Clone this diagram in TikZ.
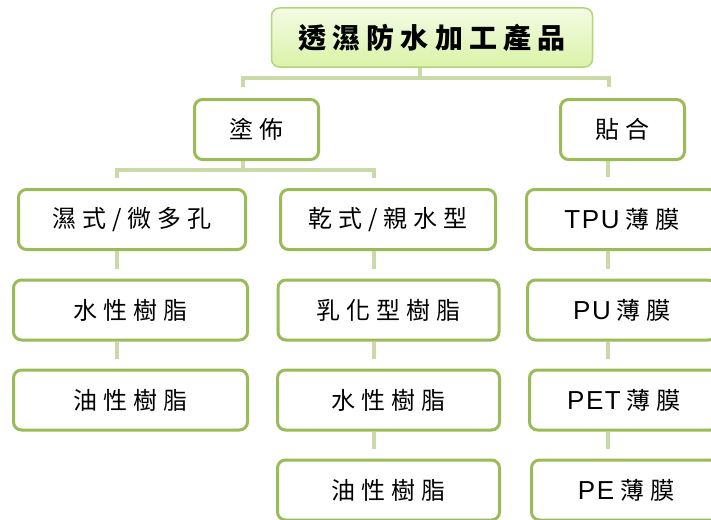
\documentclass[tikz,border=0pt]{standalone}
\usepackage{fontspec}
\newfontfamily\cjk[LetterSpace=25]{Noto Sans CJK TC}
\newfontfamily\cjkhead[LetterSpace=22]{Noto Sans CJK TC}
\newfontfamily\lat[LetterSpace=6]{Liberation Sans}
\usepackage{tikz}
\usetikzlibrary{calc}

\definecolor{boxgreen}{HTML}{9BBB59}
\definecolor{rootline}{HTML}{B5D57A}
\definecolor{linkgreen}{HTML}{C9DAA8}
\definecolor{roottop}{HTML}{F4FBE4}
\definecolor{rootbot}{HTML}{DAF3A8}

\newcommand{\latin}[1]{{\lat\fontsize{26}{30}\selectfont #1}\kern6pt}

\tikzset{
  box/.style={draw=boxgreen,line width=3pt,rounded corners=8pt,fill=white,
    minimum height=60pt,inner sep=0pt,font=\cjk\fontsize{24}{28}\selectfont},
  rootbox/.style={draw=rootline,line width=1.5pt,rounded corners=8pt,
    top color=roottop,bottom color=rootbot,minimum width=321pt,minimum height=59pt,
    inner sep=0pt,font=\cjkhead\bfseries\fontsize{28}{32}\selectfont},
  link/.style={draw=linkgreen,line width=3.5pt}
}

\begin{document}
\begin{tikzpicture}[x=1pt,y=-1pt]
  \path[use as bounding box,clip] (0,0) rectangle (711,519);
  % top level
  \node[rootbox] (root) at (432,37.5) {透濕防水加工產品};
  % second level
  \node[box,minimum width=124pt] (coat) at (256.5,129.5) {塗佈};
  \node[box,minimum width=124pt] (bond) at (622.5,129.5) {貼合};
  % third level
  \node[box,minimum width=227pt] (wet) at (132,219.5) {濕式/微多孔};
  \node[box,minimum width=215pt] (dry) at (388,219.5) {乾式/親水型};
  \node[box,minimum width=191pt] (tpu) at (622,219.5) {\latin{TPU}薄膜};
  % columns
  \node[box,minimum width=234pt] (wetwater) at (130.5,310) {水性樹脂};
  \node[box,minimum width=234pt] (wetoil) at (130.5,400) {油性樹脂};
  \node[box,minimum width=221pt] (emul) at (388.5,310) {乳化型樹脂};
  \node[box,minimum width=222pt] (drywater) at (388.5,400) {水性樹脂};
  \node[box,minimum width=222pt] (dryoil) at (388.5,490) {油性樹脂};
  \node[box,minimum width=189pt] (pu) at (622,310) {\latin{PU}薄膜};
  \node[box,minimum width=189pt] (pet) at (624,400) {\latin{PET}薄膜};
  \node[box,minimum width=189pt] (pe) at (626,490) {\latin{PE}薄膜};

  % hierarchy lines
  \coordinate (j0) at (420,78);
  \coordinate (jl) at (243,78);
  \coordinate (jr) at (609,78);
  \coordinate (k0) at (243,170);
  \coordinate (kl) at (117,170);
  \coordinate (kr) at (374,170);
  \coordinate (cl) at (117,0);
  \coordinate (cm) at (374,0);
  \coordinate (cr) at (608,0);
  \draw[link] (root.south -| j0) -- (j0);
  \draw[link] ($(coat.north -| jl)+(0,-11)$) -- (jl) -- (jr) -- ($(bond.north -| jr)+(0,-11)$);
  \draw[link] (coat.south -| k0) -- (k0);
  \draw[link] ($(wet.north -| kl)+(0,-10)$) -- (kl) -- (kr) -- ($(dry.north -| kr)+(0,-10)$);
  \draw[link] (bond.south -| cr) -- ($(tpu.north -| cr)+(0,-11)$);
  \foreach \a/\b/\c in {wet/wetwater/cl,wetwater/wetoil/cl,dry/emul/cm,emul/drywater/cm,
      drywater/dryoil/cm,tpu/pu/cr,pu/pet/cr,pet/pe/cr}
    \draw[link] (\a.south -| \c) -- ($(\b.north -| \c)+(0,-10)$);
\end{tikzpicture}
\end{document}
